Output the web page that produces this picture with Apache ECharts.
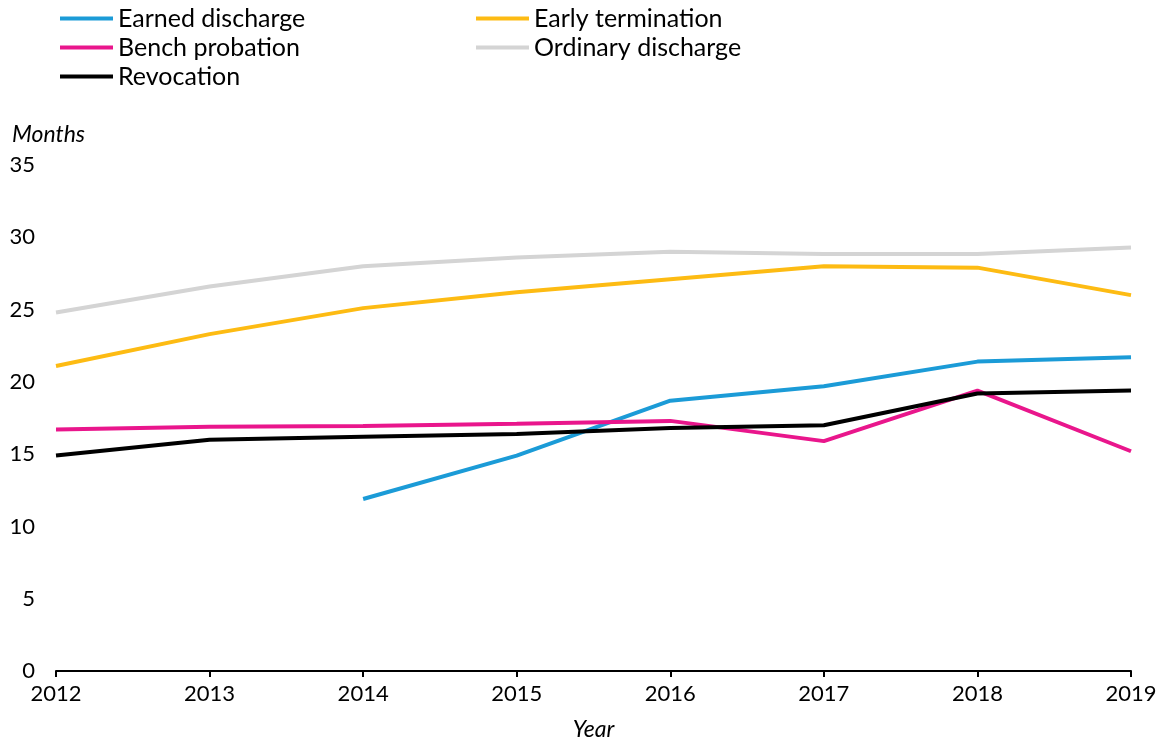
<!DOCTYPE html>
<html>
<head>
<meta charset="utf-8">
<script src="https://cdn.jsdelivr.net/npm/echarts@6/dist/echarts.min.js"></script>
<style>
html,body{margin:0;padding:0;background:#fff;}
#chart{width:1164px;height:743px;}
</style>
</head>
<body>
<div id="chart"></div>
<script>
const years = ['2012','2013','2014','2015','2016','2017','2018','2019'];
const earnedDischarge = [null, null, 11.9, 14.9, 18.7, 19.7, 21.4, 21.7];
const earlyTermination = [21.1, 23.3, 25.1, 26.2, 27.1, 28.0, 27.9, 26.0];
const benchProbation = [16.7, 16.9, 16.95, 17.1, 17.3, 15.9, 19.4, 15.2];
const ordinaryDischarge = [24.8, 26.6, 28.0, 28.6, 29.0, 28.85, 28.85, 29.3];
const revocation = [14.9, 16.0, 16.2, 16.4, 16.8, 17.0, 19.2, 19.4];

const FONT = 'Lato';
const chart = echarts.init(document.getElementById('chart'));

function mk(name, data, color) {
  return {
    name: name, type: 'line', data: data, symbol: 'none', connectNulls: false,
    lineStyle: { width: 4, color: color }, itemStyle: { color: color }
  };
}

const legendBase = {
  orient: 'vertical', icon: 'rect', itemWidth: 53, itemHeight: 4, itemGap: 0,
  textStyle: { fontFamily: FONT, fontSize: 25, color: '#000', lineHeight: 29 },
  padding: 0
};

chart.setOption({
  animation: false,
  backgroundColor: '#fff',
  textStyle: { fontFamily: FONT },
  legend: [
    Object.assign({}, legendBase, { left: 60, top: 4, data: ['Earned discharge', 'Bench probation', 'Revocation'] }),
    Object.assign({}, legendBase, { left: 476, top: 4, data: ['Early termination', 'Ordinary discharge'] })
  ],
  grid: { left: 56, right: 33, top: 165, bottom: 72, containLabel: false, outerBoundsMode: 'none' },
  xAxis: {
    type: 'category', data: years, boundaryGap: false,
    axisLine: { lineStyle: { color: '#000', width: 2 } },
    axisTick: { length: 6, lineStyle: { color: '#000', width: 2 } },
    axisLabel: { fontFamily: FONT, fontSize: 22, color: '#000', margin: 12 },
    name: 'Year', nameLocation: 'middle', nameGap: 47,
    nameTextStyle: { fontFamily: FONT, fontSize: 23, fontStyle: 'italic', color: '#000' }
  },
  yAxis: {
    type: 'value', min: 0, max: 35, interval: 5,
    axisLine: { show: false }, axisTick: { show: false }, splitLine: { show: false },
    axisLabel: { fontFamily: FONT, fontSize: 22, color: '#000', margin: 21 }
  },
  graphic: [
    { type: 'text', left: 12, top: 123, style: { text: 'Months', font: 'italic 23px Lato', fill: '#000' } }
  ],
  series: [
    mk('Ordinary discharge', ordinaryDischarge, '#d4d4d4'),
    mk('Early termination', earlyTermination, '#fdbb13'),
    mk('Earned discharge', earnedDischarge, '#1b9bd7'),
    mk('Bench probation', benchProbation, '#e9168c'),
    mk('Revocation', revocation, '#000000')
  ]
});
</script>
</body>
</html>
